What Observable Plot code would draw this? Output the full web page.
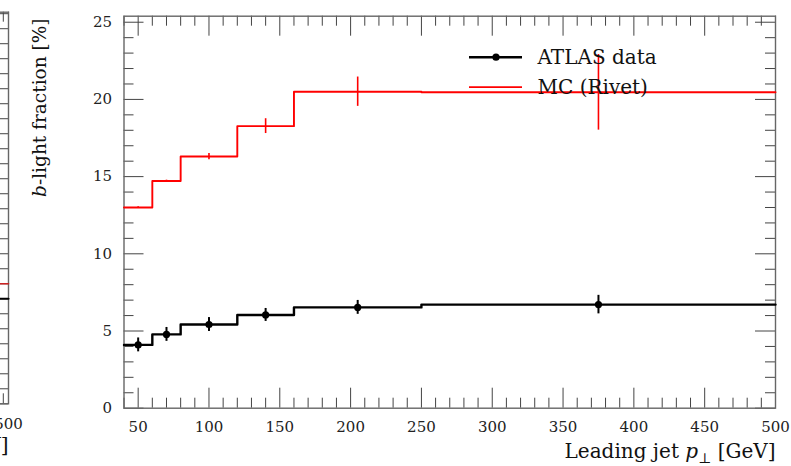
<!DOCTYPE html>
<html>
<head>
<meta charset="utf-8">
<script src="https://cdn.jsdelivr.net/npm/d3@7"></script>
<script src="https://cdn.jsdelivr.net/npm/@observablehq/plot@0.6"></script>
<style>
  html, body { margin: 0; padding: 0; background: white; }
  #wrap { position: relative; width: 791px; height: 466px; overflow: hidden; }
  #wrap svg { position: absolute; top: 0; }
</style>
</head>
<body>
<div id="wrap"></div>
<script>
// ---------------- data ----------------
const binEdges   = [40, 60, 80, 120, 160, 250, 500];
const binCenters = [50, 70, 100, 140, 205, 375];
const mcValues   = [13.0, 14.72, 16.3, 18.27, 20.5, 20.46];
const mcErrors   = [0.05, 0.05, 0.2, 0.48, 0.95, 2.45];
const dataValues = [4.1, 4.78, 5.42, 6.04, 6.53, 6.71];
const dataErrors = [0.45, 0.45, 0.45, 0.42, 0.45, 0.6];

const xTickLabels = [50, 100, 150, 200, 250, 300, 350, 400, 450, 500];
const yTickLabels = [0, 5, 10, 15, 20, 25];

// neighbouring (cropped) panel: last bin only
const leftBinEdges = [250, 500];
const leftMcValues = [8.0];
const leftDataValues = [7.0];

const legendLabels = ["ATLAS data", "MC (Rivet)"];
const yLabel = "b-light fraction [%]";
const xLabel = "Leading jet p⊥ [GeV]";

// ---------------- helpers ----------------
function steps(edges, vals) {
  const out = [];
  vals.forEach((v, i) => { out.push({x: edges[i], y: v}); out.push({x: edges[i + 1], y: v}); });
  return out;
}
const mcSteps = steps(binEdges, mcValues);
const dataSteps = steps(binEdges, dataValues);
const mcPts = binCenters.map((x, i) => ({x, y: mcValues[i], e: mcErrors[i]}));
const dataPts = binCenters.map((x, i) => ({x, y: dataValues[i], e: dataErrors[i]}));

const range = (a, b, s) => d3.range(a, b + s / 2, s);
const xMinor = range(40, 500, 10).filter(v => v % 50 !== 0);
const yMinor = range(0, 25, 1).filter(v => v % 5 !== 0);

// ---------------- layout ----------------
const W = 791, H = 466;
const mL = 123.5, mR = 16, mT = 15.7, mB = 58.3;
const pW = W - mL - mR, pH = H - mT - mB;
const xDom = [40, 500], yDom = [0, 25.39];
const MAJ = 20, MIN = 10;
const tickColor = "#444", frameColor = "#666";
const FONT = "DejaVu Serif";
const red = "#ff0000";

// legend anchor (pixel offsets inside the frame, converted through the domain)
const xAt = px => xDom[0] + (px - mL) / pW * (xDom[1] - xDom[0]);
const yAt = py => yDom[1] - (py - mT) / pH * (yDom[1] - yDom[0]);
const legend = [
  {label: legendLabels[0], color: "black", y: yAt(56.7), w: 2.4},
  {label: legendLabels[1], color: red, y: yAt(86.7), w: 1.8}
];

function ticksMarks(xMaj, xMin, yMaj, yMin, pw, ph) {
  return [
    Plot.ruleX(xMaj, {insetTop: ph - MAJ, stroke: tickColor, strokeWidth: 1}),
    Plot.ruleX(xMin, {insetTop: ph - MIN, stroke: tickColor, strokeWidth: 1}),
    Plot.ruleX(xMaj, {insetBottom: ph - MAJ, stroke: tickColor, strokeWidth: 1}),
    Plot.ruleX(xMin, {insetBottom: ph - MIN, stroke: tickColor, strokeWidth: 1}),
    Plot.ruleY(yMaj, {insetRight: pw - MAJ, stroke: tickColor, strokeWidth: 1}),
    Plot.ruleY(yMin, {insetRight: pw - MIN, stroke: tickColor, strokeWidth: 1}),
    Plot.ruleY(yMaj, {insetLeft: pw - MAJ, stroke: tickColor, strokeWidth: 1}),
    Plot.ruleY(yMin, {insetLeft: pw - MIN, stroke: tickColor, strokeWidth: 1})
  ];
}

const main = Plot.plot({
  width: W, height: H,
  marginLeft: mL, marginRight: mR, marginTop: mT, marginBottom: mB,
  style: {fontFamily: FONT, fontSize: "15px", background: "transparent", color: "#222"},
  x: {domain: xDom},
  y: {domain: yDom},
  marks: [
    ...ticksMarks(xTickLabels, xMinor, yTickLabels, yMinor, pW, pH),
    Plot.frame({stroke: frameColor, strokeWidth: 1.4}),
    Plot.axisX({ticks: xTickLabels, tickSize: 0, tickPadding: 13, label: null, fontSize: 15}),
    Plot.axisY({ticks: yTickLabels, tickSize: 0, tickPadding: 12, label: null, fontSize: 15}),
    // MC
    Plot.line(mcSteps, {x: "x", y: "y", stroke: red, strokeWidth: 1.9}),
    Plot.ruleX(mcPts, {x: "x", y1: d => d.y - d.e, y2: d => d.y + d.e, stroke: red, strokeWidth: 1.6}),
    // data
    Plot.line(dataSteps, {x: "x", y: "y", stroke: "black", strokeWidth: 2.4}),
    Plot.ruleX(dataPts, {x: "x", y1: d => d.y - d.e, y2: d => d.y + d.e, stroke: "black", strokeWidth: 2}),
    Plot.dot(dataPts, {x: "x", y: "y", r: 3.6, fill: "black", stroke: "none"}),
    // legend
    Plot.ruleY(legend, {y: "y", x1: xAt(469), x2: xAt(522), stroke: "color", strokeWidth: "w"}),
    Plot.dot(legend.slice(0, 1), {x: xAt(495.5), y: "y", r: 3.6, fill: "black", stroke: "none"}),
    Plot.text(legend, {x: xAt(537), y: "y", text: "label", textAnchor: "start", lineAnchor: "middle", fontSize: 20, fill: "#111"}),
    // axis labels
    Plot.text([yLabel], {frameAnchor: "top-left", dx: 40 - mL, dy: 18 - mT, rotate: -90, textAnchor: "end", lineAnchor: "middle", fontSize: 18.5, fill: "#111"}),
    Plot.text([xLabel], {frameAnchor: "bottom-right", dx: 0, dy: 451 - (H - mB), textAnchor: "end", lineAnchor: "middle", fontSize: 20, fill: "#111"})
  ]
});

// ---------- cropped neighbouring panel on the far left ----------
const LW = 300, lmL = 20, lmR = 20, lmT = 11.7, lmB = 62.7;
const lpW = LW - lmL - lmR, lpH = H - lmT - lmB;
const leftPanel = Plot.plot({
  width: LW, height: H,
  marginLeft: lmL, marginRight: lmR, marginTop: lmT, marginBottom: lmB,
  style: {fontFamily: FONT, fontSize: "15px", background: "transparent", color: "#222"},
  x: {domain: [0, 500], axis: null},
  y: {domain: [0, 26.1], axis: null},
  marks: [
    ...ticksMarks([500], [490], [0, 5, 10, 15, 20, 25], range(0, 26, 1).filter(v => v % 5 !== 0), lpW, lpH),
    Plot.frame({stroke: frameColor, strokeWidth: 1.4}),
    Plot.text([500], {x: d => d, frameAnchor: "bottom", dy: 20, text: d => String(d), lineAnchor: "middle", fontSize: 15, fill: "#222"}),
    Plot.line(steps(leftBinEdges, leftMcValues), {x: "x", y: "y", stroke: "#cc2222", strokeWidth: 1.6}),
    Plot.line(steps(leftBinEdges, leftDataValues), {x: "x", y: "y", stroke: "black", strokeWidth: 2.2}),
    Plot.text([xLabel], {frameAnchor: "bottom-right", dx: 0, dy: 445 - (H - lmB), textAnchor: "end", lineAnchor: "middle", fontSize: 20, fill: "#111"})
  ]
});

const wrap = document.getElementById("wrap");
main.style.left = "0px";
leftPanel.style.left = (8.3 - (LW - lmR)) + "px";
wrap.appendChild(main);
wrap.appendChild(leftPanel);

// rich text for the axis labels (italic b, italic p with subscript ⊥)
for (const svg of [main, leftPanel]) {
  svg.querySelectorAll("text").forEach(t => {
    if (t.textContent === yLabel) {
      t.innerHTML = '<tspan font-style="italic">b</tspan>-light fraction [%]';
    } else if (t.textContent === xLabel) {
      t.innerHTML = 'Leading jet <tspan font-style="italic">p</tspan><tspan font-size="0.7em" dy="0.35em">⊥</tspan><tspan dy="-0.25em"> [GeV]</tspan>';
    }
  });
}
</script>
</body>
</html>
